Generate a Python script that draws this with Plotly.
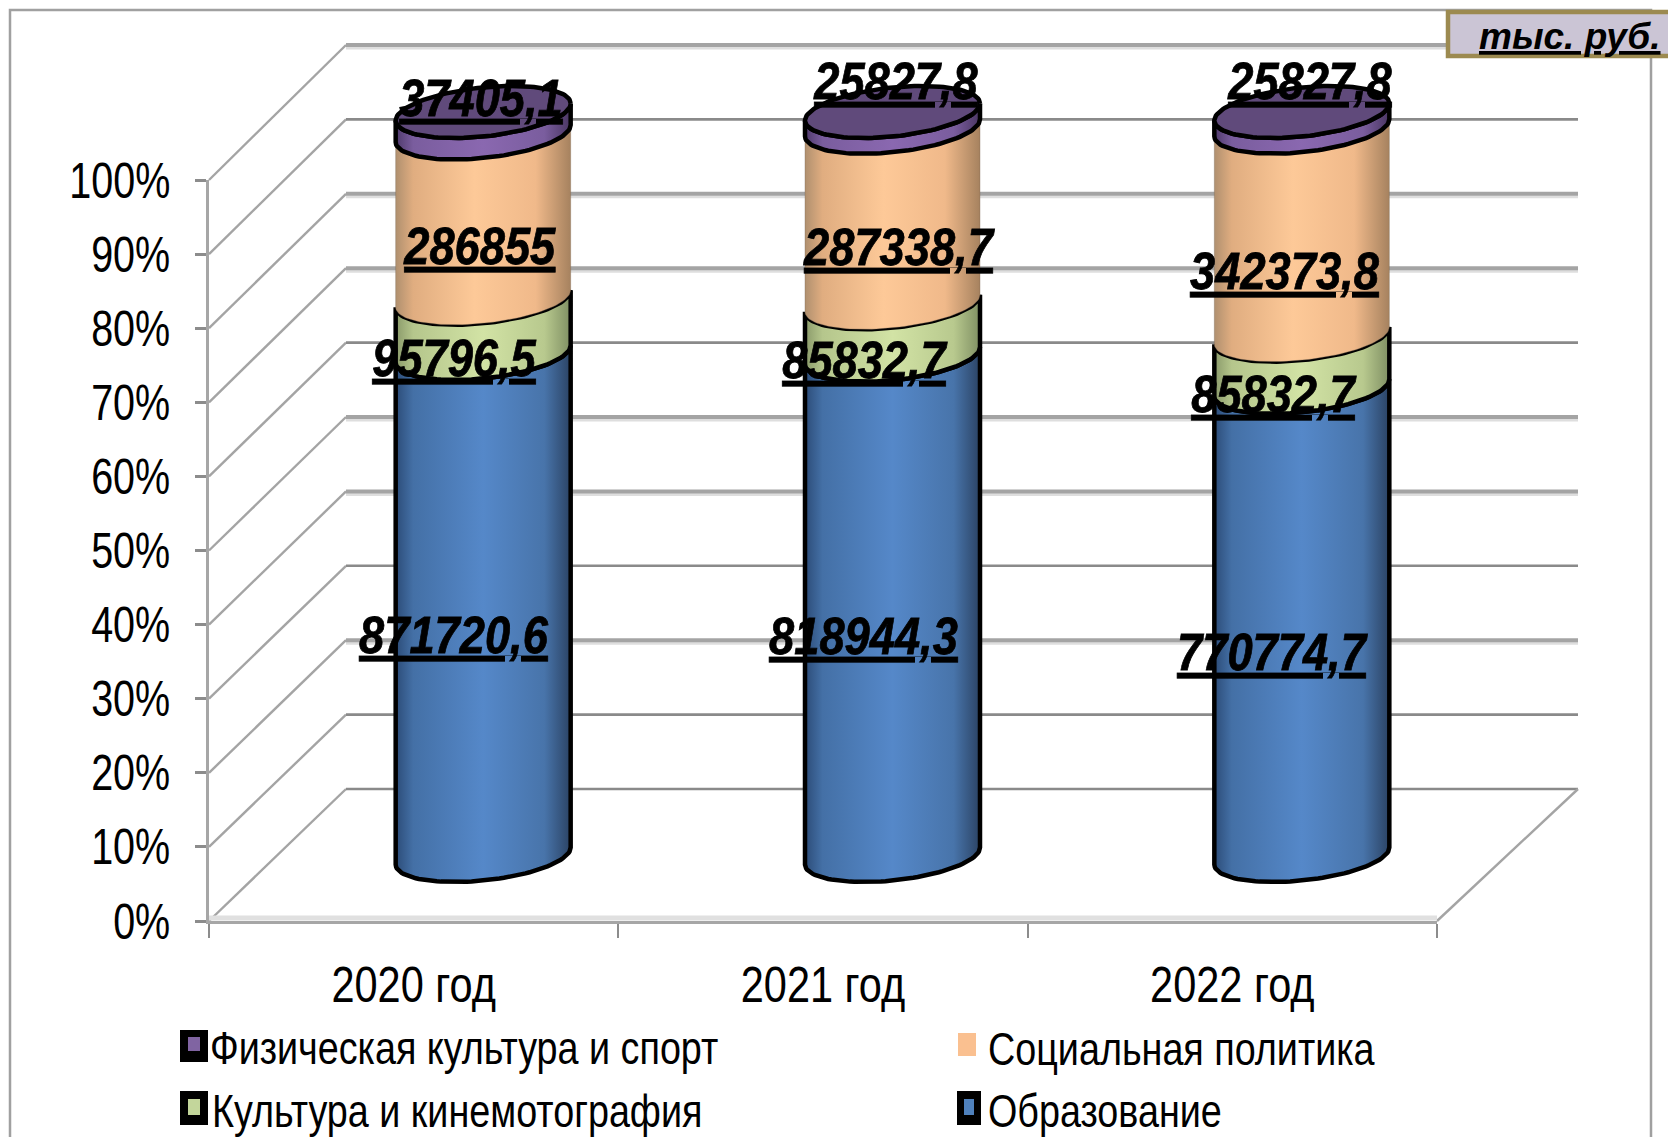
import numpy as np
import plotly.graph_objects as go

W, H = 1668, 1137

# ---- data -------------------------------------------------------------
categories = ["2020 год", "2021 год", "2022 год"]
education = [871720.6, 818944.3, 770774.7]
culture = [95796.5, 85832.7, 85832.7]
social = [286855.0, 287338.7, 342373.8]
sport = [37405.1, 25827.8, 25827.8]
series_names = ["Образование", "Культура и кинемотография", "Социальная политика", "Физическая культура и спорт"]
percent_ticks = [0, 10, 20, 30, 40, 50, 60, 70, 80, 90, 100]
percent_labels = ["0%", "10%", "20%", "30%", "40%", "50%", "60%", "70%", "80%", "90%", "100%"]
unit_label = "тыс. руб."

# ---- style ------------------------------------------------------------
FONT = "Liberation Sans"
base_colors = ["#4f81bd", "#c3d69b", "#fac090", "#8064a2"]
gradients = [
    [[0, "#2c4c78"], [0.1, "#4470a6"], [0.5, "#5588c9"], [0.85, "#4874aa"], [1, "#2b4364"]],
    [[0, "#8a9a6a"], [0.1, "#b5c68c"], [0.5, "#d2e3a5"], [0.85, "#b8c98e"], [1, "#7f8f63"]],
    [[0, "#b0906f"], [0.1, "#e0ad80"], [0.45, "#fdc998"], [0.8, "#f0b98a"], [1, "#a6825f"]],
    [[0, "#4f3a6b"], [0.1, "#7a5d9e"], [0.5, "#8a68b0"], [0.85, "#7a5d9e"], [1, "#4a3663"]],
]
outlines = [("black", 4.5), ("black", 4.5), ("rgba(120,100,80,0.35)", 1), ("black", 4.5)]
thick_rows = [100, 80, 70, 50, 40, 20]
# label nudges from the segment midpoint, in pixels (right, down)
nudges = [
    [(-29, 30), (-29, 30), (-29, 30)],
    [(-29, 32), (-28, 30), (-28, 32)],
    [(-3, 30), (6, 31), (-17, 39)],
    [(-2, -25), (3, -39), (8, -39)],
]

X0, X1, Y0, Y100 = 209, 1437, 921, 180  # front plane on the canvas
BX0, BX1, BY0, BY100 = 346, 1578, 789, 45  # back wall on the canvas
CYL_Y0, CYL_Y100 = 856, 112
CYL_DX = 69.5
CAT_PX = (X1 - X0) / 3
HALF_W = 87.5 / CAT_PX
ELL_B, ELL_T = 3.3, 1.15
CYL_PAD = 10  # percent of room round the cylinders, so caps are not clipped
CYL_SCALE = (CYL_Y0 - CYL_Y100) / 100

fig = go.Figure()


def wall_line(xs, ys, color, width):
    fig.add_trace(go.Scatter(x=xs, y=ys, mode="lines", line=dict(color=color, width=width),
                             showlegend=False, hoverinfo="skip"))


# ---- walls (hidden canvas axes x / y) ----------------------------------
for p in percent_ticks:
    fy = Y0 + (Y100 - Y0) * p / 100
    by = BY0 + (BY100 - BY0) * p / 100
    wall_line([X0, BX0], [fy, by], "#a4a4a4", 2.4)
    if p in thick_rows:
        wall_line([BX0, BX1], [by + 3, by + 3], "#dedede", 3)
        wall_line([BX0, BX1], [by, by], "#a4a4a4", 4)
    else:
        wall_line([BX0, BX1], [by, by], "#8a8a8a", 2.6)
wall_line([X1, BX1], [Y0, BY0], "#a4a4a4", 2.4)
wall_line([X0, X1], [Y0 - 3, Y0 - 3], "#e0e0e0", 5)

# ---- invisible anchor for the visible front axes -----------------------
centers = [i + 0.5 for i in range(len(categories))]
fig.add_trace(go.Scatter(x=centers, y=[0, 0, 0], xaxis="x2", yaxis="y2", mode="markers",
                         marker=dict(opacity=0), showlegend=False, hoverinfo="skip"))

# ---- stacked bars, then their cylinder skin ---------------------------
values = [education, culture, social, sport]
for name, vals, col in zip(series_names, values, base_colors):
    fig.add_trace(go.Bar(x=centers, y=vals, name=name, width=0.36, marker=dict(color=col, line=dict(width=0)),
                         xaxis="x3", yaxis="y3", showlegend=False, hoverinfo="skip"))

arr = np.array(values, dtype=float)
pct = arr / arr.sum(axis=0) * 100
cum = np.vstack([np.zeros(arr.shape[1]), np.cumsum(pct, axis=0)])
theta = np.linspace(np.pi, 0, 60)


def front_arc(c, v):
    return c + HALF_W * np.cos(theta), v - ELL_B * np.sin(theta) + ELL_T * np.cos(theta)


for s in range(arr.shape[0]):
    for k, c in enumerate(centers):
        xt, yt = front_arc(c, cum[s + 1, k])
        xb, yb = front_arc(c, cum[s, k])
        lc, lw = outlines[s]
        fig.add_trace(go.Scatter(
            x=np.r_[xt, xb[::-1], xt[0]], y=np.r_[yt, yb[::-1], yt[0]], mode="lines", fill="toself",
            fillgradient=dict(type="horizontal", colorscale=gradients[s]),
            line=dict(color=lc, width=lw), xaxis="x3", yaxis="y3",
            showlegend=False, hoverinfo="skip"))

ring = np.linspace(0, 2 * np.pi, 120)
for k, c in enumerate(centers):
    v = cum[-1, k]
    fig.add_trace(go.Scatter(
        x=c + HALF_W * np.cos(ring), y=v + ELL_B * np.sin(ring) + ELL_T * np.cos(ring),
        mode="lines", fill="toself", fillcolor="#604a7b", line=dict(color="black", width=4.5),
        xaxis="x3", yaxis="y3", showlegend=False, hoverinfo="skip"))

# ---- data labels ------------------------------------------------------
annotations = []
for s in range(arr.shape[0]):
    for k, c in enumerate(centers):
        txt = f"{arr[s, k]:.1f}".replace(".", ",")
        if txt.endswith(",0"):
            txt = txt[:-2]
        dx, dy = nudges[s][k]
        annotations.append(dict(
            x=c, y=(cum[s, k] + cum[s + 1, k]) / 2, xref="x3", yref="y3", text=txt, showarrow=False,
            xshift=dx, yshift=-dy, xanchor="center", yanchor="middle", name="value",
            font=dict(family=FONT, size=52, color="black", weight="bold", style="italic", lineposition="under")))

# ---- frame, unit box, legend (canvas axes) ------------------------------
shapes = [
    dict(type="rect", xref="x", yref="y", x0=10, x1=1651, y0=10, y1=H + 20,
         line=dict(color="#a0a0a0", width=2.5), fillcolor="rgba(0,0,0,0)", layer="below"),
    dict(type="rect", xref="x", yref="y", x0=1448, x1=W + 20, y0=12, y1=56,
         line=dict(color="#9c8a50", width=4.5), fillcolor="#cbc5d5"),
]
annotations.append(dict(x=1570, y=36, xref="x", yref="y", text=unit_label, showarrow=False,
                        font=dict(family=FONT, size=37, color="black", weight="bold", style="italic",
                                  lineposition="under")))

legend_items = [
    (series_names[3], base_colors[3], (180, 208, 1030, 1062), (188, 200, 1037, 1051), 208),
    (series_names[2], base_colors[2], None, (958, 976, 1033, 1056), 986),
    (series_names[1], base_colors[1], (180, 208, 1091, 1125), (188, 200, 1099, 1115), 210),
    (series_names[0], base_colors[0], (957, 981, 1091, 1125), (964, 974, 1099, 1115), 986),
]
for name, col, outer, inner, tx in legend_items:
    if outer is not None:
        shapes.append(dict(type="rect", xref="x", yref="y", x0=outer[0], x1=outer[1], y0=outer[2], y1=outer[3],
                           fillcolor="black", line=dict(width=0)))
    shapes.append(dict(type="rect", xref="x", yref="y", x0=inner[0], x1=inner[1], y0=inner[2], y1=inner[3],
                       fillcolor=col, line=dict(width=0)))
    annotations.append(dict(x=tx, y=(inner[2] + inner[3]) / 2 + 4, xref="x", yref="y", text=name, showarrow=False,
                            xanchor="left", yanchor="middle", font=dict(family=FONT, size=46, color="black")))

# ---- layout -----------------------------------------------------------
fig.update_layout(
    width=W, height=H, margin=dict(l=0, r=0, t=0, b=0, pad=0, autoexpand=False), autosize=False,
    paper_bgcolor="white", plot_bgcolor="rgba(0,0,0,0)",
    barmode="stack", barnorm="percent", showlegend=False, hovermode=False,
    font=dict(family=FONT, color="black"),
    shapes=shapes, annotations=annotations,
    xaxis=dict(domain=[0, 1], range=[0, W], visible=False),
    yaxis=dict(domain=[0, 1], range=[H, 0], visible=False),
    xaxis2=dict(domain=[X0 / W, X1 / W], range=[0, 3], anchor="y2", tickvals=centers, ticktext=categories,
                ticks="", showgrid=False, zeroline=False, showline=True, linecolor="#a6a6a6", linewidth=3,
                tickfont=dict(family=FONT, size=50, color="black"), ticklabelstandoff=18,
                minor=dict(tickvals=[0, 1, 2, 3], ticks="outside", ticklen=14, tickwidth=2, tickcolor="#8c8c8c")),
    yaxis2=dict(domain=[1 - Y0 / H, 1 - Y100 / H], range=[0, 100], anchor="x2", tickvals=percent_ticks,
                ticktext=percent_labels, ticks="outside", ticklen=11, tickwidth=2.5, tickcolor="#8c8c8c",
                showgrid=False, zeroline=False, showline=True, linecolor="#a6a6a6", linewidth=2.5,
                tickfont=dict(family=FONT, size=50, color="black"), ticklabelstandoff=15),
    xaxis3=dict(domain=[(X0 + CYL_DX) / W, (X1 + CYL_DX) / W], range=[0, 3], anchor="y3", visible=False),
    yaxis3=dict(domain=[1 - (CYL_Y0 + CYL_PAD * CYL_SCALE) / H, 1 - (CYL_Y100 - CYL_PAD * CYL_SCALE) / H],
                range=[-CYL_PAD, 100 + CYL_PAD], anchor="x3", visible=False),
)

# The reference's type is a tall, horizontally squeezed face: narrow the real text glyphs.
squeeze = """
function narrow(el, k) {
  var w = el.getComputedTextLength();
  el.setAttribute('lengthAdjust', 'spacingAndGlyphs');
  el.setAttribute('textLength', (w * k).toFixed(1));
  return w;
}
document.querySelectorAll('.x2tick text').forEach(function (el) { narrow(el, 0.83); });
document.querySelectorAll('.y2tick text').forEach(function (el) { narrow(el, 0.79); });
document.querySelectorAll('.annotation-text').forEach(function (el) {
  var size = parseFloat(el.style.fontSize);
  if (size > 50) {
    narrow(el, 0.87);
    el.style.stroke = 'black';
    el.style.strokeWidth = '0.8px';
  } else if (size > 40) {
    var w = narrow(el, 0.82);
    el.style.textAnchor = 'start';
    el.setAttribute('x', parseFloat(el.getAttribute('x')) - w / 2);
  }
});
"""
fig.write_html("out.html", config={"displayModeBar": False},
               post_script="document.body.style.margin='0';" + squeeze)
